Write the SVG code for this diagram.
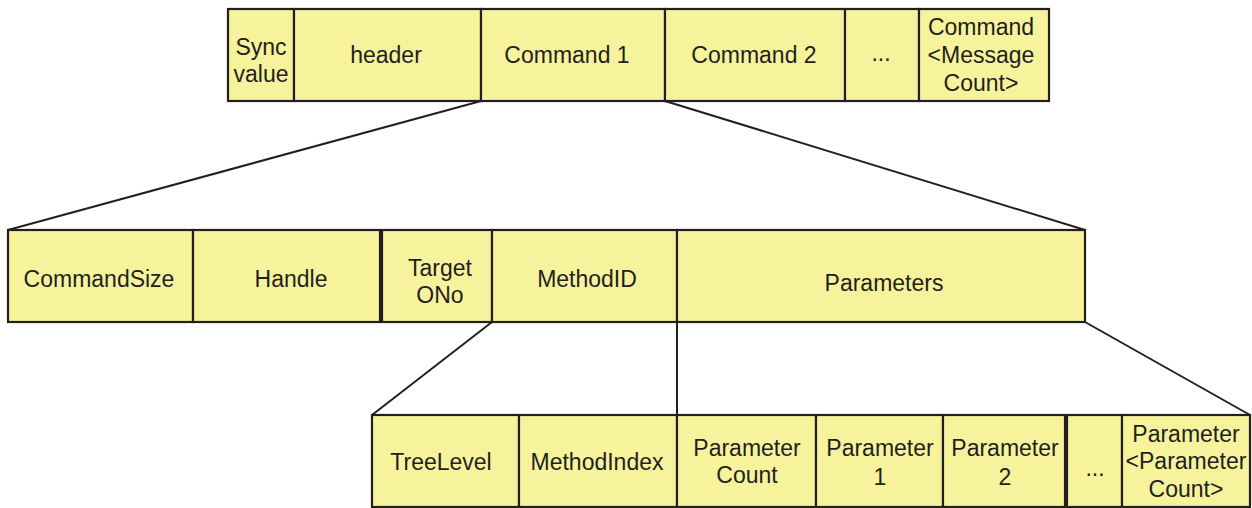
<svg xmlns="http://www.w3.org/2000/svg" width="1252" height="508" viewBox="0 0 1252 508">
  <style>
    .cell { fill: #f7f39c; stroke: #231f20; stroke-width: 2.2; }
    .lbl { font-family: "Liberation Sans", Arial, sans-serif; font-size: 23px; fill: #231f20; text-anchor: middle; dominant-baseline: central; }
    .conn { stroke: #231f20; stroke-width: 2; fill: none; }
  </style>
  <rect width="1252" height="508" fill="#ffffff"/>

  <!-- Message level -->
  <g id="sync-value"><rect class="cell" x="228" y="9" width="66" height="92"/>
    <text class="lbl" x="261" y="47">Sync</text><text class="lbl" x="261" y="74">value</text></g>
  <g id="header"><rect class="cell" x="294" y="9" width="187" height="92"/>
    <text class="lbl" x="386" y="55">header</text></g>
  <g id="command-1"><rect class="cell" x="481" y="9" width="184" height="92"/>
    <text class="lbl" x="567" y="55">Command 1</text></g>
  <g id="command-2"><rect class="cell" x="665" y="9" width="180" height="92"/>
    <text class="lbl" x="754" y="55">Command 2</text></g>
  <g id="command-more"><rect class="cell" x="845" y="9" width="74" height="92"/>
    <text class="lbl" x="881" y="53">...</text></g>
  <g id="command-last"><rect class="cell" x="919" y="9" width="130" height="92"/>
    <text class="lbl" x="981" y="27">Command</text><text class="lbl" x="981" y="55">&lt;Message</text><text class="lbl" x="981" y="83">Count&gt;</text></g>

  <!-- Command level -->
  <g id="command-size"><rect class="cell" x="8" y="230" width="185" height="92"/>
    <text class="lbl" x="99" y="279">CommandSize</text></g>
  <g id="handle"><rect class="cell" x="193" y="230" width="187" height="92"/>
    <text class="lbl" x="291" y="279">Handle</text></g>
  <g id="target-ono"><rect class="cell" x="382" y="230" width="110" height="92"/>
    <text class="lbl" x="440" y="268">Target</text><text class="lbl" x="440" y="295">ONo</text></g>
  <g id="method-id"><rect class="cell" x="492" y="230" width="185" height="92"/>
    <text class="lbl" x="587" y="279">MethodID</text></g>
  <g id="parameters"><rect class="cell" x="677" y="230" width="408" height="92"/>
    <text class="lbl" x="884" y="283">Parameters</text></g>

  <!-- Method / parameter level -->
  <g id="tree-level"><rect class="cell" x="372" y="415" width="147" height="92"/>
    <text class="lbl" x="441" y="462">TreeLevel</text></g>
  <g id="method-index"><rect class="cell" x="519" y="415" width="158" height="92"/>
    <text class="lbl" x="597" y="462">MethodIndex</text></g>
  <g id="parameter-count"><rect class="cell" x="677" y="415" width="139" height="92"/>
    <text class="lbl" x="747" y="448">Parameter</text><text class="lbl" x="747" y="475">Count</text></g>
  <g id="parameter-1"><rect class="cell" x="816" y="415" width="127" height="92"/>
    <text class="lbl" x="880" y="448">Parameter</text><text class="lbl" x="880" y="477">1</text></g>
  <g id="parameter-2"><rect class="cell" x="943" y="415" width="122" height="92"/>
    <text class="lbl" x="1005" y="448">Parameter</text><text class="lbl" x="1005" y="477">2</text></g>
  <g id="parameter-more"><rect class="cell" x="1067" y="415" width="55" height="92"/>
    <text class="lbl" x="1095" y="468">...</text></g>
  <g id="parameter-last"><rect class="cell" x="1122" y="415" width="128" height="92"/>
    <text class="lbl" x="1186" y="434">Parameter</text><text class="lbl" x="1186" y="461">&lt;Parameter</text><text class="lbl" x="1186" y="489">Count&gt;</text></g>

  <!-- Expansion lines -->
  <g id="connectors">
    <line class="conn" x1="481" y1="101" x2="8" y2="230"/>
    <line class="conn" x1="665" y1="101" x2="1085" y2="230"/>
    <line class="conn" x1="492" y1="322" x2="372" y2="415"/>
    <line class="conn" x1="677" y1="322" x2="677" y2="415"/>
    <line class="conn" x1="1085" y1="322" x2="1250" y2="415"/>
  </g>
</svg>
